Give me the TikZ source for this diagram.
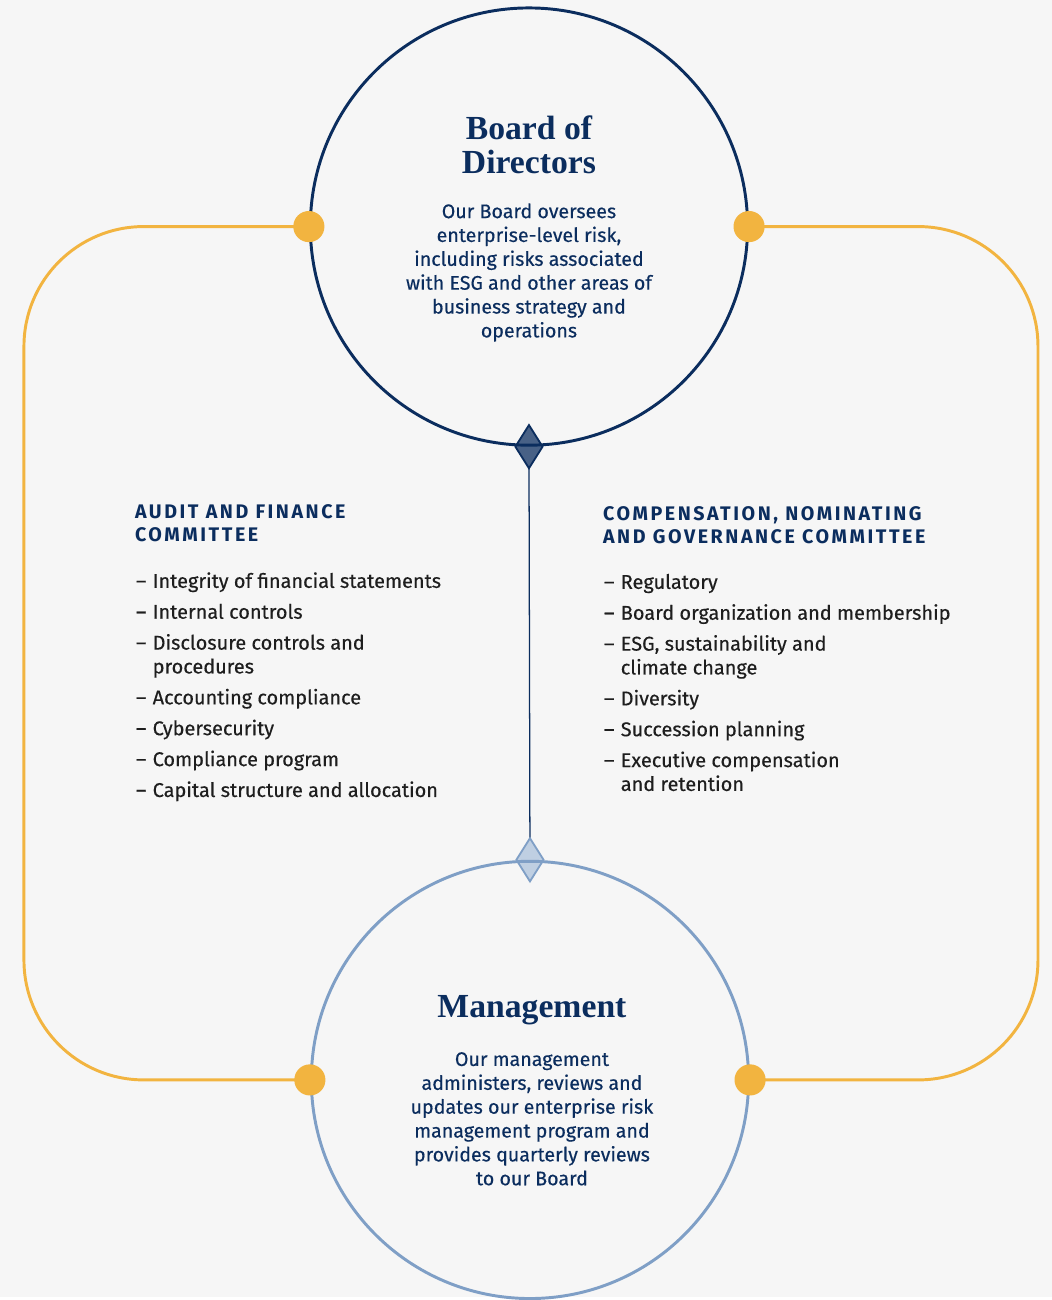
\documentclass[tikz,border=0pt]{standalone}
\usepackage{fontspec}
\setmainfont{Fira Sans}[FakeBold=0.35]
\newfontfamily\titlefont{Liberation Serif}
\newfontfamily\capsfont[LetterSpace=13]{Fira Sans}
\usetikzlibrary{shapes.geometric, backgrounds, positioning}

\definecolor{navy}{HTML}{0B2D5E}
\definecolor{steel}{HTML}{7F9FC6}
\definecolor{gold}{HTML}{F2B440}
\definecolor{paper}{HTML}{F6F6F6}
\definecolor{ink}{HTML}{1E1E1E}

\tikzset{
  ring/.style={circle, line width=2.1pt, minimum size=10.95cm, inner sep=0pt},
  dot/.style={circle, fill=gold, minimum size=0.78cm, inner sep=0pt},
  gem/.style={diamond, line width=1.3pt, minimum width=0.7cm, minimum height=1.1cm, inner sep=0pt},
  title/.style={text=navy, align=center, font=\titlefont\bfseries\fontsize{24}{24.5}\selectfont},
  blurb/.style={text=navy, align=center, font=\fontsize{14}{17}\selectfont},
  head/.style={text=navy, align=left, anchor=base west, inner sep=0pt, font=\capsfont\bfseries\fontsize{14}{16.5}\selectfont},
  items/.style={text=ink, anchor=base west, inner sep=0pt, font=\fontsize{14.2}{17}\selectfont}
}

\begin{document}
\begin{tikzpicture}[x=0.025cm, y=-0.025cm]

% Circles for the two bodies
\node[ring, draw=navy] (board) at (530,227) {};
\node[ring, draw=steel] (mgmt) at (531,1082) {};

\begin{scope}[on background layer]
  \fill[paper] (0,0) rectangle (1054,1300);
  % Gold loop around the committees
  \coordinate (lft) at (24,657);
  \coordinate (rgt) at (1040,657);
  \draw[gold, line width=2.1pt, rounded corners=3cm] (board.west) -| (lft) |- (mgmt.west);
  \draw[gold, line width=2.1pt, rounded corners=3cm] (board.east) -| (rgt) |- (mgmt.east);
  % Reporting line between board and management
  \draw[navy, line width=0.9pt] (board.south) -- (mgmt.north);
  \node[gem, draw=navy, fill=navy!75!white] (topgem) at (board.south) {};
  \node[gem, draw=steel, fill=steel!50!white] (botgem) at (mgmt.north) {};
\end{scope}

% Connection dots
\node[dot] (bw) at (board.west) {};
\node[dot] (be) at (board.east) {};
\node[dot] (mw) at (mgmt.west) {};
\node[dot] (me) at (mgmt.east) {};

% Board of Directors
\node[title] (boardname) at (530,145) {Board of\\Directors};
\node[blurb] (boardtext) at (530,273) {Our Board oversees\\enterprise-level risk,\\including risks associated\\with ESG and other areas of\\business strategy and\\operations};

% Management
\node[title] (mgmtname) at (533,1012) {Management};
\node[blurb] (mgmttext) at (533,1121) {Our management\\administers, reviews and\\updates our enterprise risk\\management program and\\provides quarterly reviews\\to our Board};

% Audit and Finance Committee
\node[head] (afchead) at (135,543) {AUDIT AND FINANCE\\COMMITTEE};
\node[items] (afclist) at (136,589) {\begin{tabular}[t]{@{}l@{\hspace{4.5pt}}l@{}}
  -- & Integrity of financial statements\\[5pt]
  -- & Internal controls\\[5pt]
  -- & Disclosure controls and\\
     & procedures\\[5pt]
  -- & Accounting compliance\\[5pt]
  -- & Cybersecurity\\[5pt]
  -- & Compliance program\\[5pt]
  -- & Capital structure and allocation
\end{tabular}};

% Compensation, Nominating and Governance Committee
\node[head] (cngchead) at (604,545) {COMPENSATION, NOMINATING\\AND GOVERNANCE COMMITTEE};
\node[items] (cnglist) at (605,590) {\begin{tabular}[t]{@{}l@{\hspace{4.5pt}}l@{}}
  -- & Regulatory\\[5pt]
  -- & Board organization and membership\\[5pt]
  -- & ESG, sustainability and\\
     & climate change\\[5pt]
  -- & Diversity\\[5pt]
  -- & Succession planning\\[5pt]
  -- & Executive compensation\\
     & and retention
\end{tabular}};

\end{tikzpicture}
\end{document}
